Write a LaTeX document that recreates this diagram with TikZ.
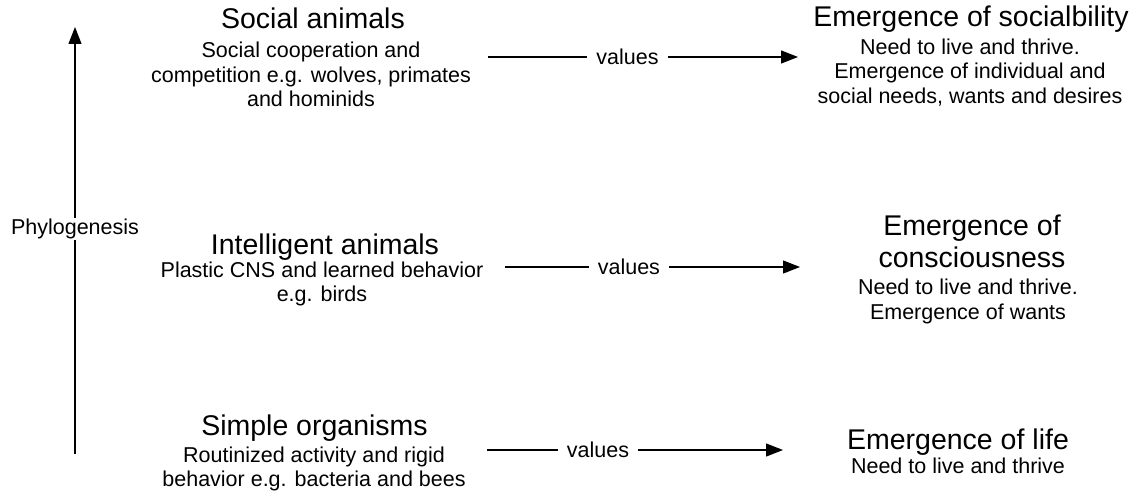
\documentclass[tikz,border=0pt]{standalone}
\usepackage{fontspec}
\setmainfont{Liberation Sans}
\usetikzlibrary{arrows.meta}
\tikzset{
  headtext/.style={font=\fontsize{28.5}{32}\selectfont, inner sep=0pt, align=center},
  bodytext/.style={font=\fontsize{21.5}{24.5}\selectfont, align=center, inner sep=0pt, anchor=north},
  flow/.style={line width=1.3pt, -{Triangle[length=17pt,width=13pt]}},
  lbl/.style={font=\fontsize{21.5}{24.5}\selectfont, fill=white, inner xsep=9pt, inner ysep=1pt},
}
\begin{document}
\begin{tikzpicture}[x=1pt,y=-1pt]
\useasboundingbox (0,0) rectangle (1138,495);

% evolutionary axis
\coordinate (axb) at (75,454);
\coordinate (axt) at (75,27);
\draw[flow] (axb) -- (axt);
\node[lbl] (phy) at (75,229) {Phylogenesis};

% social animals
\node[headtext, anchor=base] (sa) at (313,29) {Social animals};
\node[bodytext] (sab) at (311,42) {Social cooperation and\\competition e.g. wolves, primates\\and hominids};
\node[headtext, anchor=base] (es) at (971,27) {Emergence of socialbility};
\node[bodytext] (esb) at (970,38.6) {Need to live and thrive.\\Emergence of individual and\\social needs, wants and desires};
\coordinate (a1s) at (488,57);
\coordinate (a1e) at (798,57);
\draw[flow] (a1s) -- node[lbl, pos=0.45] (v1) {values} (a1e);

% intelligent animals
\node[headtext, anchor=base] (ia) at (325,254) {Intelligent animals};
\node[bodytext] (iab) at (322,261.6) {Plastic CNS and learned behavior\\e.g. birds};
\node[headtext, anchor=north] (ec) at (972,214.6) {Emergence of\\consciousness};
\node[bodytext] (ecb) at (968,279) {Need to live and thrive.\\Emergence of wants};
\coordinate (a2s) at (505,267);
\coordinate (a2e) at (800,267);
\draw[flow] (a2s) -- node[lbl, pos=0.42] (v2) {values} (a2e);

% simple organisms
\node[headtext, anchor=base] (so) at (314.5,435) {Simple organisms};
\node[bodytext] (sob) at (314,446.6) {Routinized activity and rigid\\behavior e.g. bacteria and bees};
\node[headtext, anchor=base] (el) at (958,449) {Emergence of life};
\node[bodytext] (elb) at (958,457.6) {Need to live and thrive};
\coordinate (a3s) at (487,450);
\coordinate (a3e) at (783,450);
\draw[flow] (a3s) -- node[lbl, pos=0.375] (v3) {values} (a3e);
\end{tikzpicture}
\end{document}
